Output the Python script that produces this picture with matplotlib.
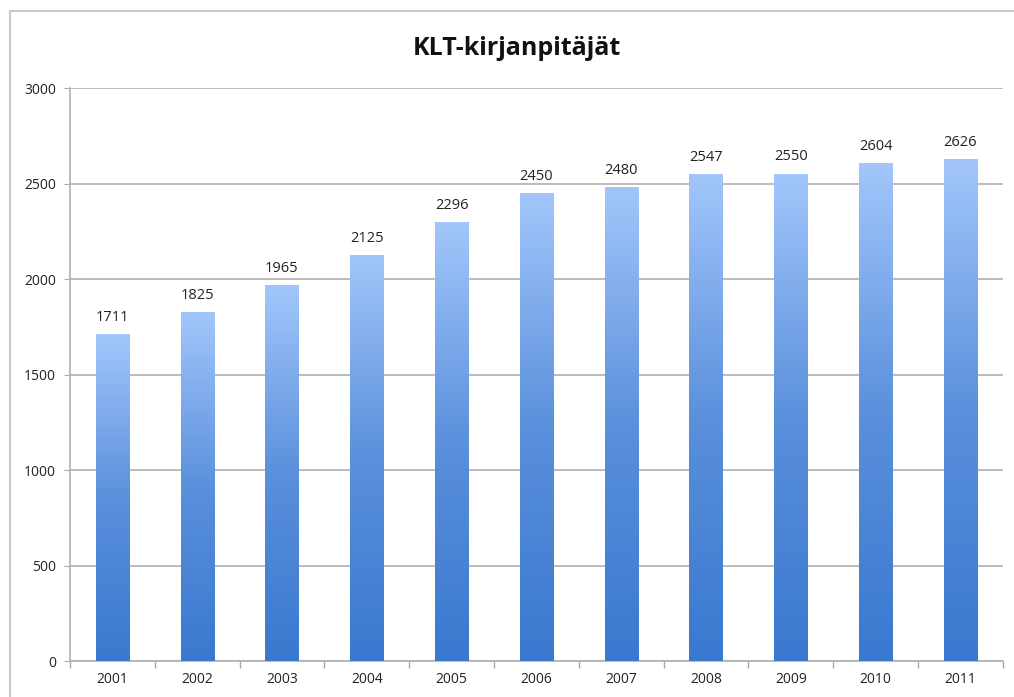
import numpy as np
import matplotlib
matplotlib.use("Agg")
import matplotlib.pyplot as plt
from matplotlib.colors import LinearSegmentedColormap
from matplotlib.lines import Line2D

years = ["2001", "2002", "2003", "2004", "2005", "2006",
         "2007", "2008", "2009", "2010", "2011"]
values = [1711, 1825, 1965, 2125, 2296, 2450, 2480, 2547, 2550, 2604, 2626]
title = "KLT-kirjanpitäjät"

plt.rcParams['font.family'] = ['Open Sans', 'DejaVu Sans']

fig = plt.figure(figsize=(10.14, 6.97), dpi=100)
ax = fig.add_axes([0.069, 0.0516, 0.92, 0.822])

# frame lines (left and top) around the chart area
fx = 9.5 / 1014
fy = 1 - 11 / 697
fig.lines.append(Line2D([fx, fx], [0, fy], transform=fig.transFigure,
                        color="#c8c8c8", linewidth=1.5))
fig.lines.append(Line2D([fx, 1], [fy, fy], transform=fig.transFigure,
                        color="#c8c8c8", linewidth=1.5))

x = np.arange(len(years))
bars = ax.bar(x, values, width=0.39, color="none", zorder=3)

cmap = LinearSegmentedColormap.from_list("blu", ["#3a78cf", "#5a90dc", "#a2c6fb"])
grad = np.linspace(0, 1, 256).reshape(-1, 1)
for rect, v in zip(bars, values):
    x0 = rect.get_x()
    ax.imshow(grad, extent=[x0, x0 + rect.get_width(), 0, v], origin="lower",
              aspect="auto", cmap=cmap, zorder=3)
    ax.text(rect.get_x() + rect.get_width() / 2, v + 50, str(v),
            ha="center", va="bottom", fontsize=10.5, color="#222222")

ax.set_xlim(-0.5, len(years) - 0.5)
ax.set_ylim(0, 3000)
ax.set_yticks(range(0, 3001, 500))
ax.set_xticks(x)
ax.set_xticklabels(years)
ax.set_xticks(np.arange(-0.5, len(years), 1), minor=True)
ax.tick_params(axis="x", which="major", length=0, pad=8, labelsize=10, labelcolor="#222222")
ax.tick_params(axis="x", which="minor", length=5, color="#a8a8a8", width=1)
ax.tick_params(axis="y", length=4, color="#a8a8a8", labelsize=10, labelcolor="#222222", pad=6)

ax.grid(axis="y", color="#b0b0b0", linewidth=1.2, zorder=0)
ax.set_axisbelow(True)
for s in ["top", "right"]:
    ax.spines[s].set_visible(False)
for s in ["left", "bottom"]:
    ax.spines[s].set_color("#b0b0b0")
    ax.spines[s].set_linewidth(1.2)

fig.text(0.51, 0.93, title, ha="center", va="center", fontsize=18,
         fontweight="bold", color="#111111")

fig.savefig("out.png", dpi=100, facecolor="white")
